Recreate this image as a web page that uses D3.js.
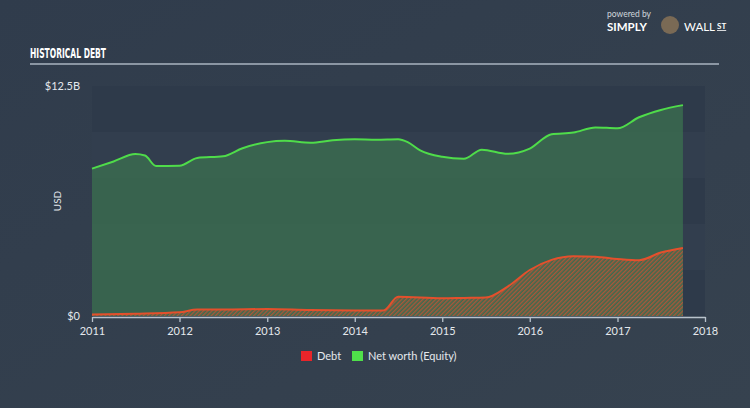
<!DOCTYPE html>
<html><head><meta charset="utf-8">
<script src="https://cdn.jsdelivr.net/npm/d3@7"></script>
<style>
html,body{margin:0;padding:0;background:#323f4f;}
svg{display:block;}
</style></head>
<body>
<script>
const dates = ["2011-01-01","2011-04-01","2011-07-01","2011-08-10","2011-09-25","2012-01-01","2012-03-15","2012-07-01","2012-09-20","2013-01-01","2013-03-15","2013-07-01","2013-10-01","2014-01-01","2014-04-01","2014-07-01","2014-08-10","2014-10-01","2015-01-01","2015-04-01","2015-06-15","2015-10-01","2016-01-01","2016-04-01","2016-07-01","2016-10-01","2017-01-01","2017-04-01","2017-07-01","2017-10-01"];
const equity = [8.01,8.4,8.8,8.72,8.15,8.17,8.59,8.68,9.12,9.45,9.52,9.42,9.55,9.6,9.58,9.61,9.45,9.0,8.65,8.54,9.04,8.82,9.1,9.88,9.97,10.25,10.2,10.8,11.2,11.46];
const debtDates = ["2011-01-01","2011-07-01","2012-01-01","2012-03-15","2012-07-01","2013-01-01","2013-07-01","2014-01-01","2014-05-01","2014-07-01","2015-01-01","2015-04-01","2015-07-01","2015-10-01","2016-01-01","2016-04-01","2016-07-01","2016-10-01","2017-01-01","2017-04-01","2017-07-01","2017-10-01"];
const debt = [0.08,0.12,0.2,0.35,0.35,0.38,0.32,0.3,0.3,1.05,0.96,0.98,1.0,1.6,2.5,3.05,3.25,3.22,3.1,3.03,3.45,3.7];
const xTicks = ["2011","2012","2013","2014","2015","2016","2017","2018"];
const yTicks = [0, 12.5];
const legendItems = ["Debt","Net worth (Equity)"];

const W=750,H=408;
const svg=d3.select("body").append("svg").attr("width",W).attr("height",H);
const defs=svg.append("defs");
const bg=defs.append("linearGradient").attr("id","bg").attr("x1",0).attr("y1",0).attr("x2",1).attr("y2",1);
bg.append("stop").attr("offset",0).attr("stop-color","#303c4c");
bg.append("stop").attr("offset",1).attr("stop-color","#36424f");
svg.append("rect").attr("width",W).attr("height",H).attr("fill","url(#bg)");

const pat=defs.append("pattern").attr("id","hatch").attr("patternUnits","userSpaceOnUse")
  .attr("width",3).attr("height",3).attr("patternTransform","rotate(-45)");
pat.append("rect").attr("width",3).attr("height",3).attr("fill","#3e6a4e");
pat.append("rect").attr("width",3).attr("height",1.4).attr("fill","#a9573a");

const parse=d3.timeParse("%Y-%m-%d");
const x=d3.scaleTime().domain([new Date(2011,0,1),new Date(2018,0,1)]).range([92,705]);
const y=d3.scaleLinear().domain([0,12.5]).range([316,86]);

// bands
const bandVals=d3.range(0,12.5,2.5);
svg.selectAll("rect.band").data(bandVals).enter().append("rect")
  .attr("x",92).attr("width",613)
  .attr("y",d=>y(d+2.5)).attr("height",d=>y(d)-y(d+2.5))
  .attr("fill",(d,i)=>i%2===0?"#2e3a4a":"#323e4e");

// title
svg.append("text").attr("x",30).attr("y",58).text("HISTORICAL DEBT")
  .attr("fill","#ffffff").attr("font-family","'DejaVu Sans Condensed','Liberation Sans Narrow',sans-serif")
  .attr("font-weight","bold").attr("font-size",14).attr("textLength",76).attr("lengthAdjust","spacingAndGlyphs");
svg.append("line").attr("x1",30).attr("x2",719).attr("y1",64).attr("y2",64).attr("stroke","#aab4c0").attr("stroke-width",1.3);

// logo text
svg.append("text").attr("x",607).attr("y",17).text("powered by").attr("fill","#d0d6dc").attr("font-family","Lato,sans-serif").attr("font-size",8.5);
svg.append("text").attr("x",607).attr("y",31).text("SIMPLY").attr("fill","#ffffff").attr("font-family","Lato,sans-serif").attr("font-weight","bold").attr("font-size",11.5);
svg.append("circle").attr("cx",670).attr("cy",25).attr("r",9).attr("fill","#7a6a55");
svg.append("text").attr("x",684).attr("y",31).text("WALL").attr("fill","#ffffff").attr("font-family","Lato,sans-serif").attr("font-size",11.5);
svg.append("text").attr("x",717).attr("y",29).text("ST").attr("fill","#ffffff").attr("font-family","Lato,sans-serif").attr("font-weight","bold").attr("font-size",8).attr("text-decoration","underline");

const eqData=dates.map((d,i)=>({d:parse(d),v:equity[i]}));
const dbData=debtDates.map((d,i)=>({d:parse(d),v:debt[i]}));
const curve=d3.curveMonotoneX;
const area=d3.area().x(d=>x(d.d)).y0(y(0)).y1(d=>y(d.v)).curve(curve);
const line=d3.line().x(d=>x(d.d)).y(d=>y(d.v)).curve(curve);

svg.append("path").datum(eqData).attr("d",area).attr("fill","#3d7a50").attr("fill-opacity",0.65);
svg.append("path").datum(dbData).attr("d",area).attr("fill","url(#hatch)");
svg.append("path").datum(eqData).attr("d",line).attr("fill","none").attr("stroke","#4fdc4a").attr("stroke-width",2);
svg.append("path").datum(dbData).attr("d",line).attr("fill","none").attr("stroke","#e4502c").attr("stroke-width",2);

// x axis
const xa=svg.append("g").attr("transform","translate(0,317)")
  .call(d3.axisBottom(x).tickValues(xTicks.map(t=>new Date(+t,0,1))).tickFormat(d3.timeFormat("%Y")).tickSize(5).tickSizeOuter(0));
xa.select(".domain").attr("stroke","#b8c2cc").attr("stroke-width",1.3);
xa.selectAll(".tick line").attr("stroke","#b8c2cc").attr("stroke-width",1.3);
xa.selectAll(".tick text").attr("fill","#e4e8ec").attr("font-family","Lato,sans-serif").attr("font-size",11).attr("dy","0.9em");

// y labels
svg.selectAll("text.yl").data(yTicks).enter().append("text")
  .attr("x",80).attr("y",d=>y(d)+4).attr("text-anchor","end")
  .text(d=>d===0?"$0":"$"+d+"B").attr("fill","#e4e8ec").attr("font-family","Lato,sans-serif").attr("font-size",11);
svg.append("text").attr("transform","translate(61,201) rotate(-90)").attr("text-anchor","middle")
  .text("USD").attr("fill","#e4e8ec").attr("font-family","Lato,sans-serif").attr("font-size",10);

// legend
const lg=svg.append("g");
const lcol=["#e8252a","#4fe04a"];
const lx=[301,352];
legendItems.forEach((t,i)=>{
  lg.append("rect").attr("x",lx[i]).attr("y",351).attr("width",11).attr("height",10).attr("fill",lcol[i]);
  lg.append("text").attr("x",lx[i]+16).attr("y",360).text(t).attr("fill","#e4e8ec").attr("font-family","Lato,sans-serif").attr("font-size",11);
});
</script>
</body></html>
